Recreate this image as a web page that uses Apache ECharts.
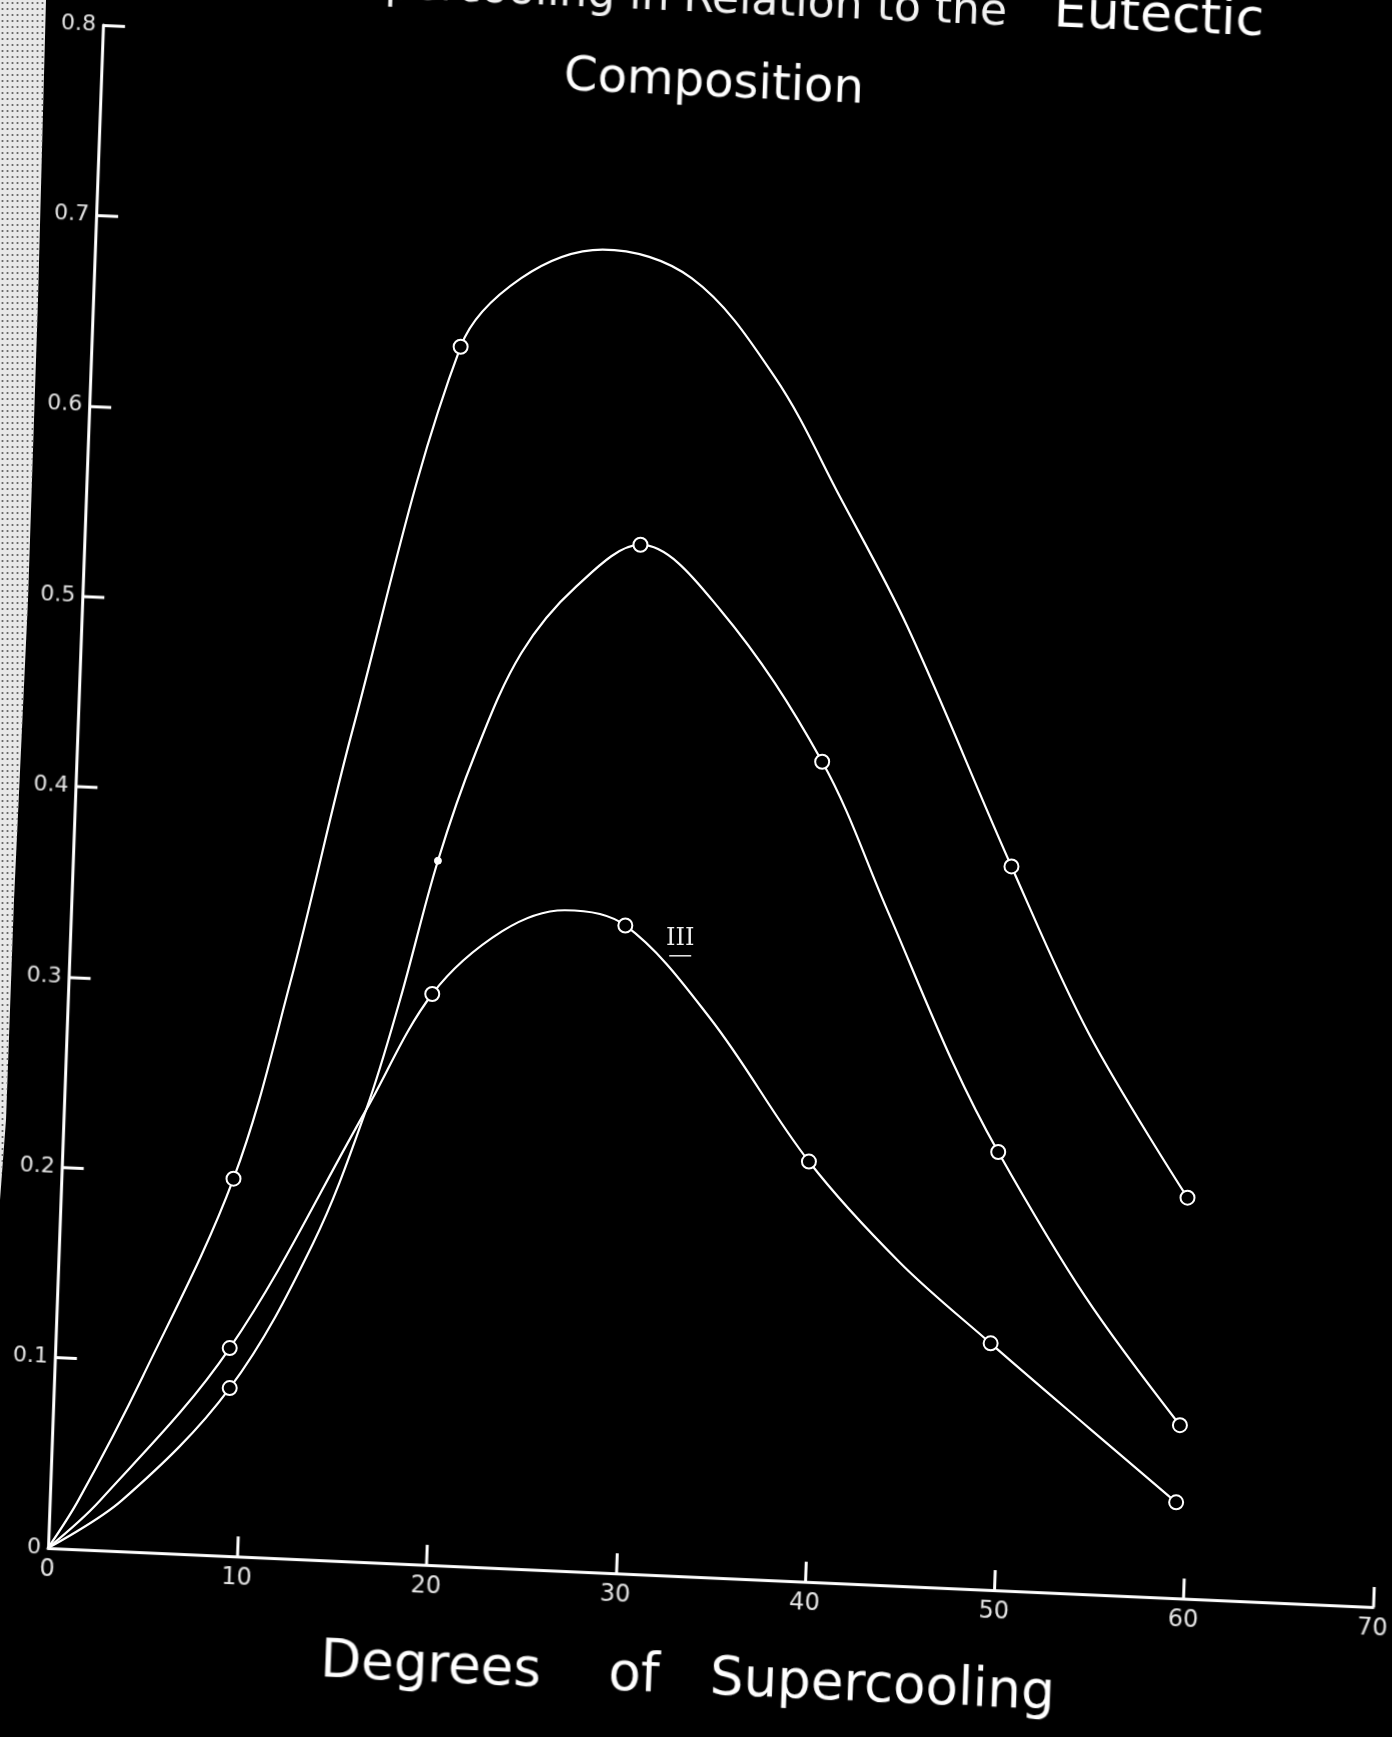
<!DOCTYPE html>
<html>
<head>
<meta charset="utf-8">
<script src="https://cdn.jsdelivr.net/npm/echarts@6/dist/echarts.min.js"></script>
<style>
  html, body { margin:0; padding:0; background:#000; width:1392px; height:1737px; overflow:hidden; }
  #edge { position:absolute; left:0; top:0; width:60px; height:1300px;
          background: radial-gradient(#6a6a6a 0.9px, transparent 1.2px) 0 0/5px 6px, #e8e8e8;
          clip-path: polygon(0 0, 46px 0, 38px 300px, 28px 600px, 14px 900px, 6px 1120px, 0 1200px); }
  #axes { position:absolute; left:-100px; top:-100px; width:1592px; height:1937px;
          transform-origin: 148px 1648px; transform: matrix(1, 0.04453, -0.03611, 1, 0, 0); }
  #data { position:absolute; left:0; top:0; width:1392px; height:1737px; }
</style>
</head>
<body>
<div id="edge"></div>
<div id="axes"></div>
<div id="data"></div>
<script>
// ---------- data ----------
const xTicks = [0, 10, 20, 30, 40, 50, 60, 70];
const yTicks = [0, 0.1, 0.2, 0.3, 0.4, 0.5, 0.6, 0.7, 0.8];

// kind: 0 = point on the drawn curve, 1 = plotted circle, 2 = small solid dot
const curveIx    = [0, 1.6, 5, 9.8, 12.8, 16.1, 21.8, 25, 29.3, 34, 38.4, 41.9, 45.4, 50.9, 55, 60.2];
const curveIy    = [0, 0.025, 0.09, 0.194, 0.297, 0.430, 0.631, 0.667, 0.682, 0.667, 0.615, 0.551, 0.484, 0.358, 0.27, 0.184];
const curveIkind = [0, 0, 0, 1, 0, 0, 1, 0, 0, 0, 0, 0, 0, 1, 0, 1];

const curveIIx    = [0, 3.9, 9.6, 14, 16.8, 18.6, 20.6, 22.6, 25, 27.9, 31.3, 35.5, 40.9, 44.3, 47.8, 50.2, 54.8, 59.8];
const curveIIy    = [0, 0.025, 0.084, 0.16, 0.230, 0.288, 0.361, 0.418, 0.470, 0.505, 0.527, 0.493, 0.413, 0.336, 0.255, 0.208, 0.132, 0.0645];
const curveIIkind = [0, 0, 1, 0, 0, 0, 2, 0, 0, 0, 1, 0, 1, 0, 0, 1, 0, 1];

const curveIIIx    = [0, 2.75, 9.6, 16.8, 20.3, 24, 27.3, 30.5, 35, 40.2, 45, 49.8, 55, 59.6];
const curveIIIy    = [0, 0.025, 0.105, 0.230, 0.291, 0.324, 0.335, 0.327, 0.278, 0.203, 0.15, 0.1075, 0.063, 0.024];
const curveIIIkind = [0, 0, 1, 0, 1, 0, 0, 1, 0, 1, 0, 1, 0, 1];

const titleLine1a = 'Supercooling in Relation to the';
const titleLine1b = 'Eutectic';
const titleLine2 = 'Composition';
const xAxisTitle = 'Degrees    of   Supercooling';
const curveLabel = 'III';
const curveLabelAt = [33.4, 0.320];

// ---------- layout ----------
const FONT = '"DejaVu Sans", "Liberation Sans", sans-serif';
const GRID = { left: 48, top: 25, width: 1325, height: 1523 };
const PAD = 100;

// axes + titles (sheared to follow the hand-drawn axes)
const axes = echarts.init(document.getElementById('axes'), null, { renderer: 'canvas' });
axes.setOption({
  animation: false,
  backgroundColor: 'transparent',
  grid: { left: GRID.left + PAD, top: GRID.top + PAD, width: GRID.width, height: GRID.height },
  xAxis: {
    type: 'value', min: xTicks[0], max: xTicks[xTicks.length - 1], interval: 10,
    axisLine: { show: true, lineStyle: { color: '#fff', width: 3 } },
    axisTick: { show: true, inside: true, length: 20, lineStyle: { color: '#fff', width: 3 } },
    axisLabel: { show: true, color: '#e6e6e6', fontSize: 24, margin: 10, fontFamily: FONT },
    splitLine: { show: false }
  },
  yAxis: {
    type: 'value', min: yTicks[0], max: yTicks[yTicks.length - 1], interval: 0.1,
    axisLine: { show: true, lineStyle: { color: '#fff', width: 3 } },
    axisTick: { show: true, inside: true, length: 22, lineStyle: { color: '#fff', width: 3 } },
    axisLabel: { show: true, color: '#e6e6e6', fontSize: 22, margin: 7, fontFamily: FONT,
                 formatter: v => (Math.abs(v) < 1e-9 ? '0' : v.toFixed(1)) },
    splitLine: { show: false }
  },
  graphic: [
    { type: 'text', style: { x: 1050, y: 74, text: titleLine1a, fill: '#f2f2f2',
      font: '44px ' + FONT, align: 'right', verticalAlign: 'middle' } },
    { type: 'text', style: { x: 1307, y: 70, text: titleLine1b, fill: '#fff',
      font: '52px ' + FONT, align: 'right', verticalAlign: 'middle' } },
    { type: 'text', style: { x: 760, y: 157, text: titleLine2, fill: '#fff',
      font: '48px ' + FONT, align: 'center', verticalAlign: 'middle' } },
    { type: 'text', style: { x: 424, y: 1750, text: xAxisTitle, fill: '#fff',
      font: '53px ' + FONT, align: 'left', verticalAlign: 'middle' } }
  ],
  series: []
});

// data curves
function build(xs, ys, kinds) {
  return xs.map((x, i) => {
    const k = kinds[i];
    if (k === 0) return { value: [x, ys[i]], symbol: 'none' };
    if (k === 2) return { value: [x, ys[i]], symbol: 'circle', symbolSize: 7,
                          itemStyle: { color: '#fff', borderColor: '#fff', borderWidth: 1 } };
    return { value: [x, ys[i]], symbol: 'circle', symbolSize: 14 };
  });
}
function curve(name, xs, ys, kinds) {
  return {
    name, type: 'line', smooth: 0.35, showAllSymbol: true,
    data: build(xs, ys, kinds),
    lineStyle: { color: '#fff', width: 2.2 },
    itemStyle: { color: '#000', borderColor: '#fff', borderWidth: 2 },
    emphasis: { disabled: true }
  };
}

const chart = echarts.init(document.getElementById('data'), null, { renderer: 'canvas' });
chart.setOption({
  animation: false,
  backgroundColor: 'transparent',
  grid: GRID,
  xAxis: { type: 'value', min: 0, max: 70, show: false },
  yAxis: { type: 'value', min: 0, max: 0.8, show: false },
  series: [
    curve('I', curveIx, curveIy, curveIkind),
    curve('II', curveIIx, curveIIy, curveIIkind),
    curve('III', curveIIIx, curveIIIy, curveIIIkind)
  ]
});
// label "III" next to curve III, placed through the chart's scale
const lp = chart.convertToPixel({ gridIndex: 0 }, curveLabelAt);
chart.setOption({
  graphic: [
    { type: 'text', style: { x: lp[0], y: lp[1], text: curveLabel, fill: '#eee',
      font: '24px "DejaVu Serif", serif', align: 'center', verticalAlign: 'middle' } },
    { type: 'line', shape: { x1: lp[0] - 11, y1: lp[1] + 17, x2: lp[0] + 11, y2: lp[1] + 17 },
      style: { stroke: '#eee', lineWidth: 1.5 } }
  ]
});
</script>
</body>
</html>
